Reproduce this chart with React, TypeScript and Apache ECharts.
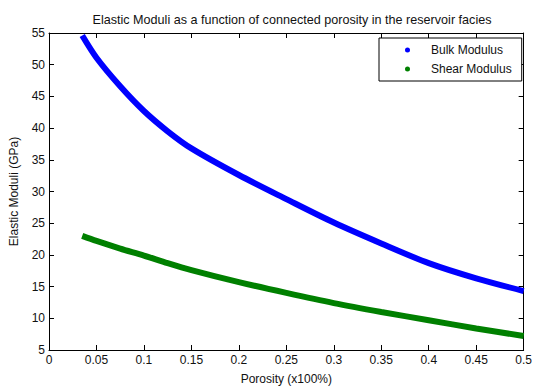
import React, { useEffect, useRef } from "react";
import * as echarts from "echarts";

const porosity = [0.035, 0.05, 0.075, 0.1, 0.125, 0.15, 0.2, 0.25, 0.3, 0.35, 0.4, 0.45, 0.5];
const bulkModulus = [54.6, 51.1, 46.6, 42.7, 39.5, 36.8, 32.6, 28.8, 25.1, 21.8, 18.7, 16.3, 14.3];
const shearModulus = [23.0, 22.2, 21.0, 19.9, 18.7, 17.6, 15.7, 14.0, 12.4, 11.0, 9.7, 8.4, 7.2];

const titleText = "Elastic Moduli as a function of connected porosity in the reservoir facies";
const xName = "Porosity (x100%)";
const yName = "Elastic Moduli (GPa)";
const seriesNames = ["Bulk Modulus", "Shear Modulus"];

const FONT = "'Liberation Sans', Arial, sans-serif";
const DOT_ICON =
  "path://M0,0 L0,0.001 L0.001,0 Z M37,12 L37,11.999 L36.999,12 Z M16,6 a2.5,2.5 0 1,0 5,0 a2.5,2.5 0 1,0 -5,0 Z";

export default function App() {
  const ref = useRef<HTMLDivElement>(null);
  useEffect(() => {
    if (!ref.current) return;
    const chart = echarts.init(ref.current, null, { renderer: "svg" });
    const axisText = { color: "#111", fontFamily: FONT, fontSize: 12 };
    chart.setOption({
      animation: false,
      backgroundColor: "#fff",
      title: {
        text: titleText,
        left: 287,
        textAlign: "center",
        top: 8,
        textStyle: { fontFamily: FONT, fontSize: 12.6, fontWeight: "normal", color: "#111" },
      },
      grid: { left: 47, right: 7, top: 33, bottom: 38, containLabel: false },
      legend: {
        orient: "vertical",
        left: 379,
        top: 38,
        padding: [6, 10, 6, 10],
        itemWidth: 37,
        itemHeight: 12,
        itemGap: 7,
        backgroundColor: "#fff",
        borderColor: "#000",
        borderWidth: 1,
        borderRadius: 0,
        itemStyle: { borderWidth: 0 },
        textStyle: { fontFamily: FONT, fontSize: 12, color: "#111" },
        data: seriesNames.map((n) => ({ name: n, icon: DOT_ICON })),
      },
      xAxis: [
        {
          type: "value",
          min: 0,
          max: 0.5,
          interval: 0.05,
          name: xName,
          nameLocation: "middle",
          nameGap: 23,
          nameTextStyle: axisText,
          axisLine: { show: true, onZero: false, lineStyle: { color: "#000", width: 1 } },
          axisTick: { show: true, inside: true, length: 5, lineStyle: { color: "#000" } },
          axisLabel: { ...axisText, margin: 4 },
          splitLine: { show: false },
        },
        {
          type: "value",
          position: "top",
          min: 0,
          max: 0.5,
          interval: 0.05,
          axisLine: { show: true, onZero: false, lineStyle: { color: "#000", width: 1 } },
          axisTick: { show: true, inside: true, length: 5, lineStyle: { color: "#000" } },
          axisLabel: { show: false },
          splitLine: { show: false },
        },
      ],
      yAxis: [
        {
          type: "value",
          min: 5,
          max: 55,
          interval: 5,
          name: yName,
          nameLocation: "middle",
          nameGap: 29,
          nameTextStyle: axisText,
          axisLine: { show: true, onZero: false, lineStyle: { color: "#000", width: 1 } },
          axisTick: { show: true, inside: true, length: 5, lineStyle: { color: "#000" } },
          axisLabel: { ...axisText, margin: 4 },
          splitLine: { show: false },
        },
        {
          type: "value",
          position: "right",
          min: 5,
          max: 55,
          interval: 5,
          axisLine: { show: true, onZero: false, lineStyle: { color: "#000", width: 1 } },
          axisTick: { show: true, inside: true, length: 5, lineStyle: { color: "#000" } },
          axisLabel: { show: false },
          splitLine: { show: false },
        },
      ],
      series: [
        {
          name: seriesNames[0],
          type: "line",
          smooth: 0.3,
          showSymbol: false,
          symbol: "circle",
          color: "#0000ff",
          lineStyle: { width: 6, color: "#0000ff" },
          data: porosity.map((p, i) => [p, bulkModulus[i]]),
        },
        {
          name: seriesNames[1],
          type: "line",
          smooth: 0.3,
          showSymbol: false,
          symbol: "circle",
          color: "#008000",
          lineStyle: { width: 6, color: "#008000" },
          data: porosity.map((p, i) => [p, shearModulus[i]]),
        },
      ],
    });
    return () => chart.dispose();
  }, []);
  return <div ref={ref} style={{ width: 535, height: 390, position: "absolute", left: 0, top: 0 }} />;
}
